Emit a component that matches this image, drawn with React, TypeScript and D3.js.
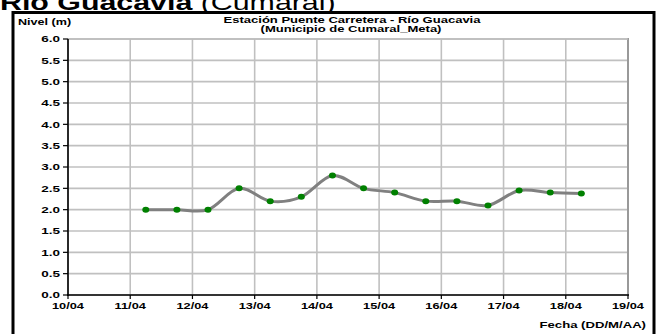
import React from "react";
import * as d3 from "d3";

const dates = [
  "11/04 06:00", "11/04 18:00", "12/04 06:00", "12/04 18:00", "13/04 06:00",
  "13/04 18:00", "14/04 06:00", "14/04 18:00", "15/04 06:00", "15/04 18:00",
  "16/04 06:00", "16/04 18:00", "17/04 06:00", "17/04 18:00", "18/04 06:00",
];
const levels = [2.0, 2.0, 2.0, 2.5, 2.2, 2.3, 2.8, 2.5, 2.4, 2.2, 2.2, 2.1, 2.45, 2.4, 2.38];
const xTickLabels = ["10/04", "11/04", "12/04", "13/04", "14/04", "15/04", "16/04", "17/04", "18/04", "19/04"];
const yTicks = [0, 0.5, 1, 1.5, 2, 2.5, 3, 3.5, 4, 4.5, 5, 5.5, 6];

const W = 658;
const H = 334;
const FONT = "Arial, 'Liberation Sans', sans-serif";

function SText(props: {
  x: number; y: number; size: number; sx?: number; anchor?: string; weight?: string; children: React.ReactNode;
}) {
  const { x, y, size, sx = 1.4, anchor = "start", weight = "bold", children } = props;
  return (
    <text
      transform={`translate(${x},${y}) scale(${sx},1)`}
      textAnchor={anchor}
      fontSize={size}
      fontWeight={weight}
      fontFamily={FONT}
      fill="#000"
    >
      {children}
    </text>
  );
}

export default function App() {
  const parse = d3.timeParse("%d/%m %H:%M");
  const tickDates = xTickLabels.map((t) => parse(t + " 00:00") as Date);
  const pts = dates.map((d, i) => ({ t: parse(d) as Date, v: levels[i] }));

  const x = d3.scaleTime().domain([tickDates[0], tickDates[tickDates.length - 1]]).range([68, 628]);
  const y = d3.scaleLinear().domain([0, 6]).range([295, 39]);

  const line = d3
    .line<{ t: Date; v: number }>()
    .x((d) => x(d.t))
    .y((d) => y(d.v))
    .curve(d3.curveCardinal.tension(0));

  const [x0, x1] = x.range();
  const [y0, y1] = y.range();

  return (
    <svg width={W} height={H} style={{ position: "absolute", left: 0, top: 0, background: "#fff" }}>
      <rect x={0} y={0} width={W} height={H} fill="#fff" />
      {/* top cut-off title */}
      <text x={0} y={10} fontFamily={FONT} fontSize={22} fill="#000" transform="scale(1.38,1)">
        <tspan fontWeight="bold">Río Guacavia</tspan>
        <tspan> (Cumaral)</tspan>
      </text>
      {/* frame */}
      <rect x={13} y={12.5} width={641} height={H} fill="#fff" stroke="#000" strokeWidth={3} />

      <SText x={18} y={25} size={9} sx={1.4}>Nivel (m)</SText>
      <SText x={352} y={22.5} size={9} sx={1.45} anchor="middle">Estación Puente Carretera - Río Guacavia</SText>
      <SText x={351} y={31.5} size={9} sx={1.45} anchor="middle">(Municipio de Cumaral_Meta)</SText>

      {/* grid */}
      {yTicks.map((v) => (
        <line key={"h" + v} x1={x0} x2={x1} y1={y(v)} y2={y(v)} stroke="#c0c0c0" strokeWidth={1.6} />
      ))}
      {tickDates.map((d, i) => (
        <line key={"v" + i} x1={x(d)} x2={x(d)} y1={y0} y2={y1} stroke="#c0c0c0" strokeWidth={1.6} />
      ))}
      <line x1={x1} x2={x1} y1={y1 - 1} y2={y0} stroke="#999" strokeWidth={2} />
      <line x1={x0} x2={x1} y1={y1} y2={y1} stroke="#bbb" strokeWidth={1.6} />

      {/* axes */}
      <line x1={x0} x2={x0} y1={y1} y2={y0 + 1} stroke="#000" strokeWidth={1.6} />
      <line x1={x0 - 1} x2={x1 + 1} y1={y0} y2={y0} stroke="#000" strokeWidth={1.6} />
      {yTicks.map((v) => (
        <g key={"yt" + v}>
          <line x1={x0 - 5} x2={x0} y1={y(v)} y2={y(v)} stroke="#000" strokeWidth={1.2} />
          <SText x={x0 - 8} y={y(v) + 3.2} size={9} sx={1.5} anchor="end">{v.toFixed(1)}</SText>
        </g>
      ))}
      {tickDates.map((d, i) => (
        <g key={"xt" + i}>
          <line x1={x(d)} x2={x(d)} y1={y0} y2={y0 + 4} stroke="#000" strokeWidth={1.2} />
          <SText x={x(d)} y={y0 + 14} size={9} sx={1.42} anchor="middle">{xTickLabels[i]}</SText>
        </g>
      ))}
      <SText x={646} y={327.5} size={9} sx={1.46} anchor="end">Fecha (DD/M/AA)</SText>

      {/* series */}
      <path d={line(pts) || ""} fill="none" stroke="#808080" strokeWidth={3} />
      {pts.map((p, i) => (
        <ellipse key={"p" + i} cx={x(p.t)} cy={y(p.v)} rx={3.5} ry={3} fill="#008000" />
      ))}
    </svg>
  );
}
